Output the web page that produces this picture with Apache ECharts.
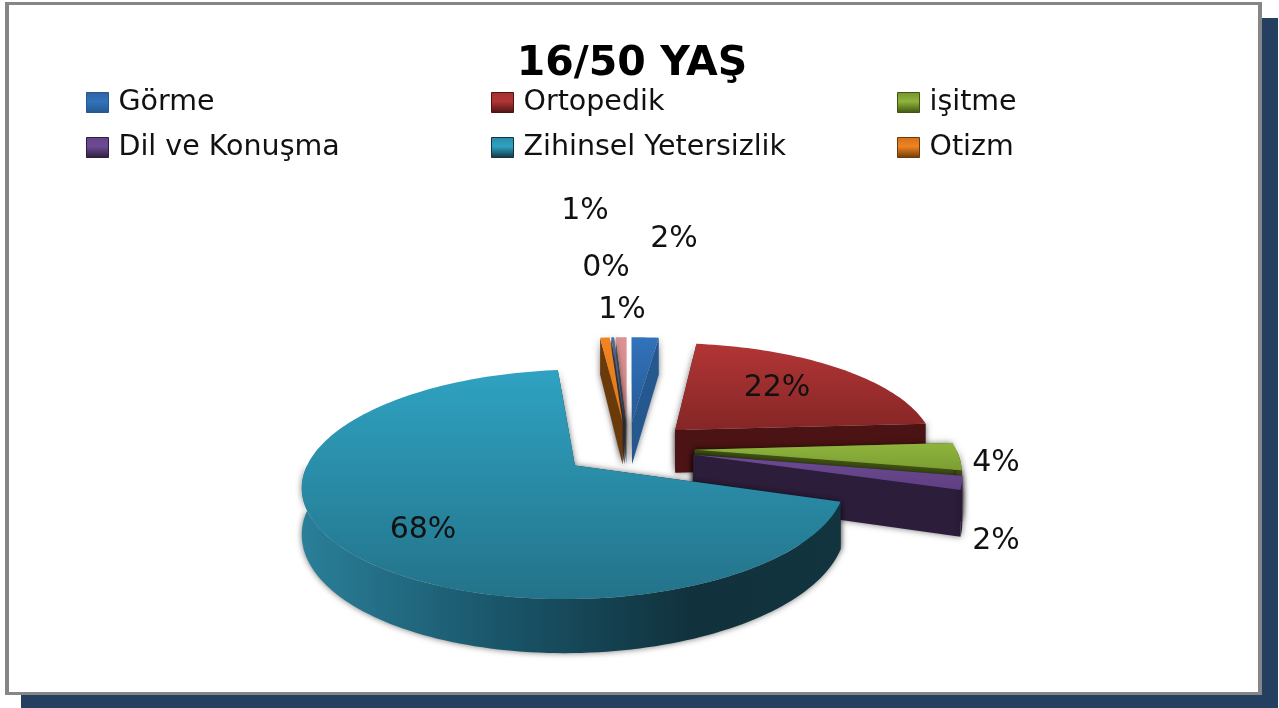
<!DOCTYPE html>
<html>
<head>
<meta charset="utf-8">
<style>
  html, body { margin: 0; padding: 0; background: #fff; }
  #chart { width: 1279px; height: 708px; }
</style>
<script src="https://cdn.jsdelivr.net/npm/echarts@6/dist/echarts.min.js"></script>
</head>
<body>
<div id="chart"></div>
<script>
// data
var categories = ['Görme', 'Ortopedik', 'işitme', 'Dil ve Konuşma', 'Zihinsel Yetersizlik', 'Otizm', 'Diğer 1', 'Diğer 2'];
var values = [2, 22, 4, 2, 68.3, 0.7, 0.2, 0.8];
var legendColumns = [
  ['Görme', 'Dil ve Konuşma'],
  ['Ortopedik', 'Zihinsel Yetersizlik'],
  ['işitme', 'Otizm']
];

// look of each slice
var topColors = [['#3273bb', '#265a94'], ['#b23535', '#862626'], ['#8fb43c', '#7c9e34'], ['#6d4a94', '#5f3f82'],
  ['#2fa2c2', '#237389'], ['#f08420', '#e07a1c'], ['#4f6d9c', '#4f6d9c'], ['#dc9292', '#cf8585']];
var wallColors = ['#24588f', '#4b1313', '#405312', '#2c1d3b', '#12343f', '#6b3a0b', '#3f3f50', '#6a6060'];
var legendColors = ['#2f62a0', '#a33232', '#76932f', '#64458a', '#2a8aa8', '#d2701c'];
// back to front
var drawOrder = [0, 7, 6, 5, 1, 2, 3, 4];
// label centres in px, Excel had them dragged by hand
var labelSpots = [[674, 239], [777, 388], [996, 463], [996, 541], [423, 530], [585, 211], [606, 268], [622, 310]];

// fake 3D projection, fitted on the picture
var cx = 628, cy = 448, radiusX = 261, radiusY = 106, persp = 0.16, depth = 44, explode = 0.255;
var tealIndex = 4;

var total = values.reduce(function (a, b) { return a + b; }, 0);
var rad = Math.PI / 180;

function project(x, d, h) {
  var s = 1 / (1 + persp * d);
  return [cx + radiusX * x * s, cy - radiusY * d * s + depth * h * s];
}

function startAngle(idx) {
  var sum = 0;
  for (var i = 0; i < idx; i++) sum += values[i];
  return sum / total * 360;
}

function renderSlice(idx, value) {
  var a = startAngle(idx);
  var b = a + value / total * 360;
  var mid = (a + b) / 2 * rad;
  var ex = explode * Math.sin(mid), ed = explode * Math.cos(mid);

  function rim(deg, h) {
    return project(ex + Math.sin(deg * rad), ed + Math.cos(deg * rad), h);
  }
  function arc(from, to, h) {
    var pts = [];
    var n = Math.max(2, Math.ceil((to - from) / 1.5));
    for (var i = 0; i <= n; i++) pts.push(rim(from + (to - from) * i / n, h));
    return pts;
  }
  var apexTop = project(ex, ed, 0), apexBottom = project(ex, ed, 1);
  var wallStyle = { fill: wallColors[idx], shadowBlur: 6, shadowColor: 'rgba(0,0,0,0.55)' };

  function radialWall(deg) {
    return {
      type: 'polygon',
      shape: { points: [apexTop, rim(deg, 0), rim(deg, 1), apexBottom] },
      style: wallStyle
    };
  }

  var children = [];
  if (Math.sin(mid) > 0) children.push(radialWall(a), radialWall(b));
  else children.push(radialWall(b), radialWall(a));

  // outer wall, only the part that faces us
  var from = Math.max(a, 90), to = Math.min(b, 270);
  if (to > from) {
    children.push({
      type: 'polygon',
      shape: { points: arc(from, to, 0).concat(arc(from, to, 1).reverse()) },
      style: {
        fill: idx === tealIndex ? new echarts.graphic.LinearGradient(0, 0, 1, 0, [
          { offset: 0, color: '#2a7f99' },
          { offset: 0.38, color: '#195468' },
          { offset: 0.72, color: '#11323d' },
          { offset: 1, color: '#12343f' }
        ]) : wallColors[idx],
        shadowBlur: 6,
        shadowColor: 'rgba(0,0,0,0.55)'
      }
    });
  }

  children.push({
    type: 'polygon',
    shape: { points: [apexTop].concat(arc(a, b, 0)) },
    style: {
      fill: new echarts.graphic.LinearGradient(0, 0, 0, 1, [
        { offset: 0, color: topColors[idx][0] },
        { offset: 1, color: topColors[idx][1] }
      ])
    }
  });

  children.push({
    type: 'text',
    z2: 10,
    style: {
      x: labelSpots[idx][0],
      y: labelSpots[idx][1],
      text: Math.round(value) + '%',
      fill: '#111',
      font: '30px "DejaVu Sans"',
      align: 'center',
      verticalAlign: 'middle'
    }
  });
  return { type: 'group', children: children };
}

var chart = echarts.init(document.getElementById('chart'), null, { renderer: 'canvas' });

var option = {
  animation: false,
  backgroundColor: '#fff',
  title: {
    text: '16/50 YAŞ',
    left: 627,
    top: 39,
    textAlign: 'center',
    textStyle: { fontFamily: 'DejaVu Sans', fontWeight: 'bold', fontSize: 41, color: '#000' }
  },
  legend: legendColumns.map(function (names, col) {
    return {
      orient: 'vertical',
      left: [86, 491, 897][col],
      top: 88,
      padding: 0,
      itemWidth: 22,
      itemHeight: 20,
      itemGap: 16,
      selectedMode: false,
      textStyle: { fontFamily: 'DejaVu Sans', fontSize: 28.5, color: '#111', padding: [0, 0, 0, 5] },
      data: names.map(function (name) {
        var c = legendColors[categories.indexOf(name)];
        return {
          name: name,
          icon: 'rect',
          itemStyle: {
            color: new echarts.graphic.LinearGradient(0, 0, 0, 1, [
              { offset: 0, color: c },
              { offset: 0.45, color: topColors[categories.indexOf(name)][0] },
              { offset: 1, color: wallColors[categories.indexOf(name)] }
            ]),
            borderColor: wallColors[categories.indexOf(name)],
            borderWidth: 1
          }
        };
      })
    };
  }),
  graphic: [
    { type: 'rect', z: -3, shape: { x: 21, y: 18, width: 1257, height: 690 }, style: { fill: '#243f60' } },
    { type: 'rect', z: -2, shape: { x: 5, y: 2, width: 1257, height: 693 }, style: { fill: '#868686' } },
    { type: 'rect', z: -1, shape: { x: 9, y: 5, width: 1249, height: 687 }, style: { fill: '#fff' } }
  ],
  series: categories.map(function (name, i) {
    return {
      type: 'custom',
      name: name,
      coordinateSystem: 'none',
      z: 2 + drawOrder.indexOf(i),
      silent: true,
      itemStyle: { color: legendColors[i] || topColors[i][0] },
      data: [values[i]],
      renderItem: function (params, api) {
        return renderSlice(i, api.value(0));
      }
    };
  })
};

chart.setOption(option);
</script>
</body>
</html>
